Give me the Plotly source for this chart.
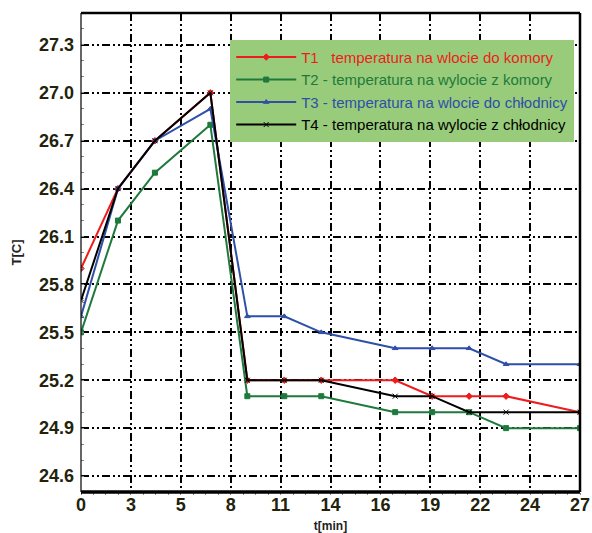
import plotly.graph_objects as go

time_min = [0, 2, 4, 7, 9, 11, 13, 17, 19, 21, 23, 27]
t1 = [25.9, 26.4, 26.7, 27.0, 25.2, 25.2, 25.2, 25.2, 25.1, 25.1, 25.1, 25.0]
t2 = [25.5, 26.2, 26.5, 26.8, 25.1, 25.1, 25.1, 25.0, 25.0, 25.0, 24.9, 24.9]
t3 = [25.6, 26.4, 26.7, 26.9, 25.6, 25.6, 25.5, 25.4, 25.4, 25.4, 25.3, 25.3]
t4 = [25.7, 26.4, 26.7, 27.0, 25.2, 25.2, 25.2, 25.1, 25.1, 25.0, 25.0, 25.0]

names = [
    "T1   temperatura na wlocie do komory",
    "T2 - temperatura na wylocie z komory",
    "T3 - temperatura na wlocie do chłodnicy",
    "T4 - temperatura na wylocie z chłodnicy",
]
colors = ["#ee1c1c", "#1e7a3c", "#2f4fa8", "#000000"]
symbols = ["diamond", "square", "triangle-up", "x-thin"]

x_tickvals = [0, 2.7, 5.4, 8.1, 10.8, 13.5, 16.2, 18.9, 21.6, 24.3, 27]
x_ticktext = ["0", "3", "5", "8", "11", "14", "16", "19", "22", "24", "27"]
y_tickvals = [24.6, 24.9, 25.2, 25.5, 25.8, 26.1, 26.4, 26.7, 27.0, 27.3]

fig = go.Figure()
for ys, nm, c, s in zip([t1, t2, t3, t4], names, colors, symbols):
    fig.add_trace(go.Scatter(
        x=time_min, y=ys, mode="lines+markers",
        name=f"<span style='color:{c}'>{nm}</span>",
        line=dict(color=c, width=2),
        marker=dict(symbol=s, size=5, color=c, line=dict(color=c, width=1)),
    ))

tickfont = dict(family="Liberation Sans, Arial", size=18, color="#23230c", weight="bold")
grid_dash = "8px,3px,2px,3px,2px,3px"

fig.update_layout(
    width=592, height=533,
    margin=dict(l=81, r=12, t=13, b=41),
    paper_bgcolor="white", plot_bgcolor="white",
    showlegend=True,
    legend=dict(
        x=0.299, y=0.944, xanchor="left", yanchor="top",
        bgcolor="#98cc7a", bordercolor="#98cc7a", borderwidth=1,
        font=dict(family="Liberation Sans, Arial", size=15),
        tracegroupgap=0, itemwidth=60,
    ),
    xaxis=dict(
        range=[0, 27], tickvals=x_tickvals, ticktext=x_ticktext,
        tickfont=tickfont, ticks="", automargin=False,
        showgrid=True, gridcolor="black", gridwidth=1.6, griddash=grid_dash,
        zeroline=False, showline=False,
        title=dict(text="t[min]", font=dict(family="Liberation Sans, Arial", size=12, weight="bold", color="#222"), standoff=11),
        minor=dict(dtick=0.675, tick0=0, ticks="outside", ticklen=2, tickcolor="#888", showgrid=False),
    ),
    yaxis=dict(
        range=[24.5, 27.5], tickvals=y_tickvals,
        tickformat=".1f", automargin=False,
        tickfont=tickfont, ticks="",
        ticklabelstandoff=6,
        showgrid=True, gridcolor="black", gridwidth=1.6, griddash=grid_dash,
        zeroline=False, showline=False,
        title=dict(text="T[C]", font=dict(family="Liberation Sans, Arial", size=13, weight="bold", color="#222"), standoff=14),
        minor=dict(dtick=0.1, tick0=24.5, ticks="inside", ticklen=3, tickcolor="#888", showgrid=False),
    ),
    shapes=[
        dict(type="line", xref="paper", yref="paper", x0=0, x1=0, y0=0, y1=1, line=dict(color="black", width=1.2)),
        dict(type="line", xref="paper", yref="paper", x0=0, x1=1, y0=0, y1=0, line=dict(color="black", width=3.5)),
        dict(type="line", xref="paper", yref="paper", x0=0, x1=1, y0=1, y1=1, line=dict(color="black", width=2.5)),
        dict(type="line", xref="paper", yref="paper", x0=1, x1=1, y0=0, y1=1, line=dict(color="black", width=2.5)),
    ],
)

fig.write_html("out.html")
